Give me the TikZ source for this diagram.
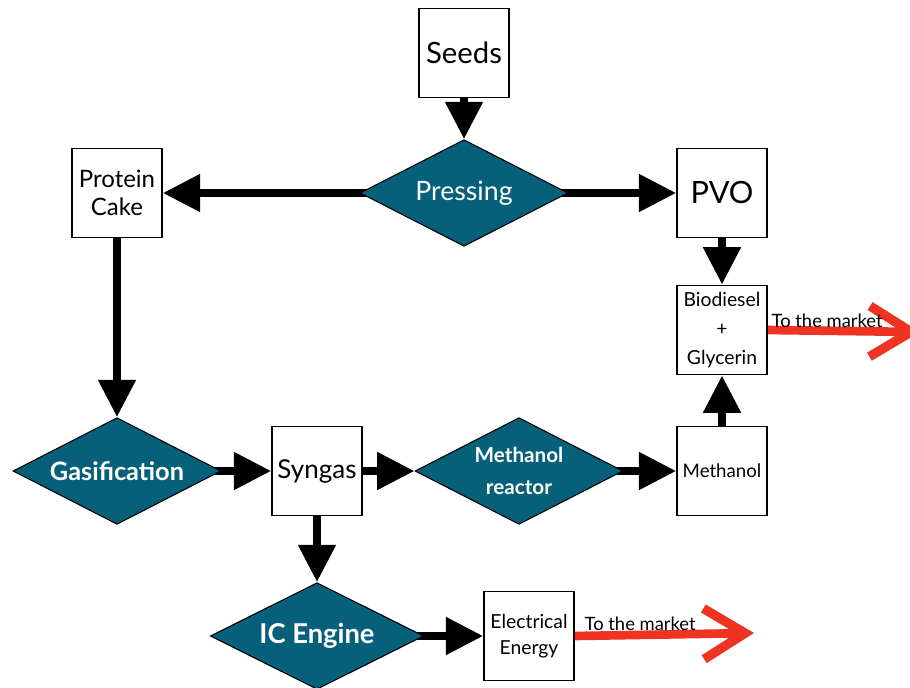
\documentclass[tikz,border=0pt]{standalone}
\usepackage{fontspec}
\setmainfont{Lato}
\usetikzlibrary{shapes.geometric,arrows.meta,backgrounds}
\definecolor{processteal}{HTML}{06607A}
\definecolor{marketred}{HTML}{EE3322}
\tikzset{
  stockbox/.style={draw=black, line width=1.2pt, fill=white, minimum width=67.5pt,
    minimum height=67pt, inner sep=0pt, align=center, text=black},
  process/.style={diamond, draw=black, line width=0.8pt, fill=processteal, aspect=2,
    minimum width=156pt, minimum height=80pt, inner sep=0pt, align=center,
    text=white, font=\bfseries},
  flow/.style={line width=6pt, -{Triangle[length=28pt,width=27pt]}},
  market/.style={draw=marketred, line width=6.5pt,
    -{Straight Barb[length=31pt,width=38pt,line width=7pt]}},
  marketlabel/.style={font=\fontsize{13.8}{15}\selectfont, inner sep=1pt, text=black}
}
\begin{document}
\begin{tikzpicture}[x=0.75pt, y=-0.75pt]
  \useasboundingbox (0,0) rectangle (910,688);
  \clip (0,0) rectangle (910,688);

  % material streams (boxes)
  \node[stockbox, font=\fontsize{22}{24}\selectfont] (seeds) at (464,53) {Seeds};
  \node[stockbox, font=\fontsize{18}{21}\selectfont] (protein) at (117,193) {Protein\\Cake};
  \node[stockbox, font=\fontsize{23}{24}\selectfont] (pvo) at (722,193) {PVO};
  \node[stockbox, font=\fontsize{14.5}{22}\selectfont] (bio) at (722,330) {Biodiesel\\+\\Glycerin};
  \node[stockbox, font=\fontsize{19.5}{22}\selectfont] (syngas) at (317,471) {Syngas};
  \node[stockbox, font=\fontsize{14}{16}\selectfont] (methanol) at (722,471) {Methanol};
  \node[stockbox, font=\fontsize{14.5}{19}\selectfont] (elec) at (529,636) {Electrical\\Energy};

  % conversion steps (diamonds)
  \node[process, font=\fontsize{20}{22}\selectfont] (pressing) at (464,193) {Pressing};
  \node[process, font=\bfseries\fontsize{19}{22}\selectfont] (gasif) at (117,471) {Gasification};
  \node[process, font=\bfseries\fontsize{15.5}{24}\selectfont] (reactor) at (519,471) {Methanol\\reactor};
  \node[process, minimum width=160pt, font=\bfseries\fontsize{20.5}{22}\selectfont] (engine) at (317,636) {IC Engine};

  % process flow, kept behind the shapes so lines leaving a diamond start at its tip
  \begin{pgfonlayer}{background}
    \draw[flow] (seeds) -- (pressing.north);
    \draw[flow] (pressing.center) -- (protein.east);
    \draw[flow] (pressing.center) -- (pvo.west);
    \draw[flow] (pvo) -- (bio);
    \draw[flow] (protein) -- (gasif.north);
    \draw[flow] (gasif.center) -- (syngas.west);
    \draw[flow] (syngas.east) -- (reactor.west);
    \draw[flow] (reactor.center) -- (methanol.west);
    \draw[flow] (methanol) -- (bio);
    \draw[flow] (syngas) -- (engine.north);
    \draw[flow] (engine.center) -- (elec.west);
  \end{pgfonlayer}

  % products leaving the plant
  \coordinate (mkt1) at (920,332);
  \coordinate (mkt2) at (754,633);
  \draw[market] (bio.east) -- (mkt1);
  \draw[market] (elec.east) -- (mkt2);
  \node[marketlabel, anchor=base west] (lbl1) at (770,327) {To the market};
  \node[marketlabel, anchor=base west] (lbl2) at (583,630) {To the market};
\end{tikzpicture}
\end{document}
